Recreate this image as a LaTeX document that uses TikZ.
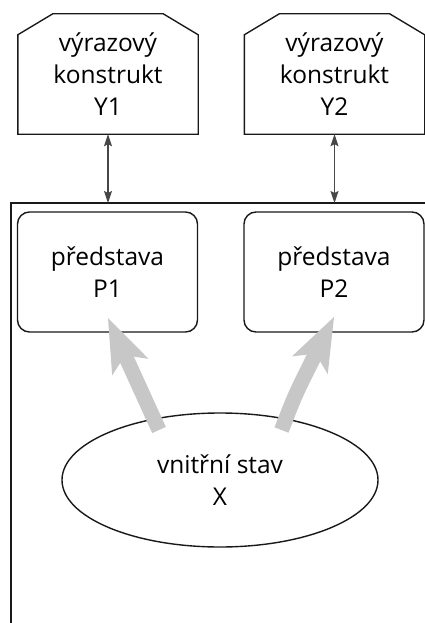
\documentclass[tikz,border=0pt]{standalone}
\usepackage{fontspec}
\setmainfont{Open Sans}
\usetikzlibrary{arrows.meta,calc,shapes.geometric}
\begin{document}
\begin{tikzpicture}[x=1pt,y=-1pt,
  font=\fontsize{24.5}{32}\selectfont,
  outline/.style={draw=black!90, line width=1.4pt},
  textbox/.style={minimum width=180pt, minimum height=120pt, inner sep=0pt,
    align=center, text=black},
  ideabox/.style={textbox, outline, rounded corners=12pt},
  link/.style={draw=black!72, line width=1.3pt,
    {Stealth[length=12pt,width=8pt,inset=2pt]}-{Stealth[length=12pt,width=8pt,inset=2pt]}},
  flow/.style={draw=black!22, line width=15pt,
    -{Stealth[length=54pt,width=40pt,inset=13pt,line width=0pt]}}
]
\useasboundingbox (0,0) rectangle (425,623);

% expression constructs with chamfered tops
\node[textbox] (y1) at (108,74) {výrazový\\konstrukt\\Y1};
\node[textbox] (y2) at (334.5,74) {výrazový\\konstrukt\\Y2};
\foreach \n in {y1,y2}{
  \draw[outline] (\n.south west) -- ($(\n.north west)+(0,21)$)
    -- ($(\n.north west)+(35,0)$) -- ($(\n.north east)+(-35,0)$)
    -- ($(\n.north east)+(0,21)$) -- (\n.south east) -- cycle;
}

% inner frame (top and left edges)
\coordinate (ftr) at (425,203);
\coordinate (ftl) at (11,203);
\coordinate (fbl) at (11,623);
\draw[outline] (ftr) -- (ftl) -- (fbl);

% representations
\node[ideabox] (p1) at (107.5,272) {představa\\P1};
\node[ideabox] (p2) at (334,272) {představa\\P2};

% inner state
\node[ellipse, outline, minimum width=316pt, minimum height=134pt,
  inner sep=0pt, align=center, text=black] (x) at (220,480) {vnitřní stav\\X};

% links between constructs and the frame
\coordinate (a1) at (y1.south |- ftl);
\coordinate (a2) at (y2.south |- ftl);
\draw[link] (y1.south) -- (a1);
\draw[link] (y2.south) -- (a2);

% broad grey arrows from the inner state to the representations
\coordinate (t1) at (159,430);
\coordinate (h1) at (108,318);
\coordinate (t2) at (281.5,430);
\coordinate (h2) at (334,317);
\draw[flow] (t1) -- (h1);
\draw[flow] (t2) .. controls (295,395) .. (h2);
\end{tikzpicture}
\end{document}
